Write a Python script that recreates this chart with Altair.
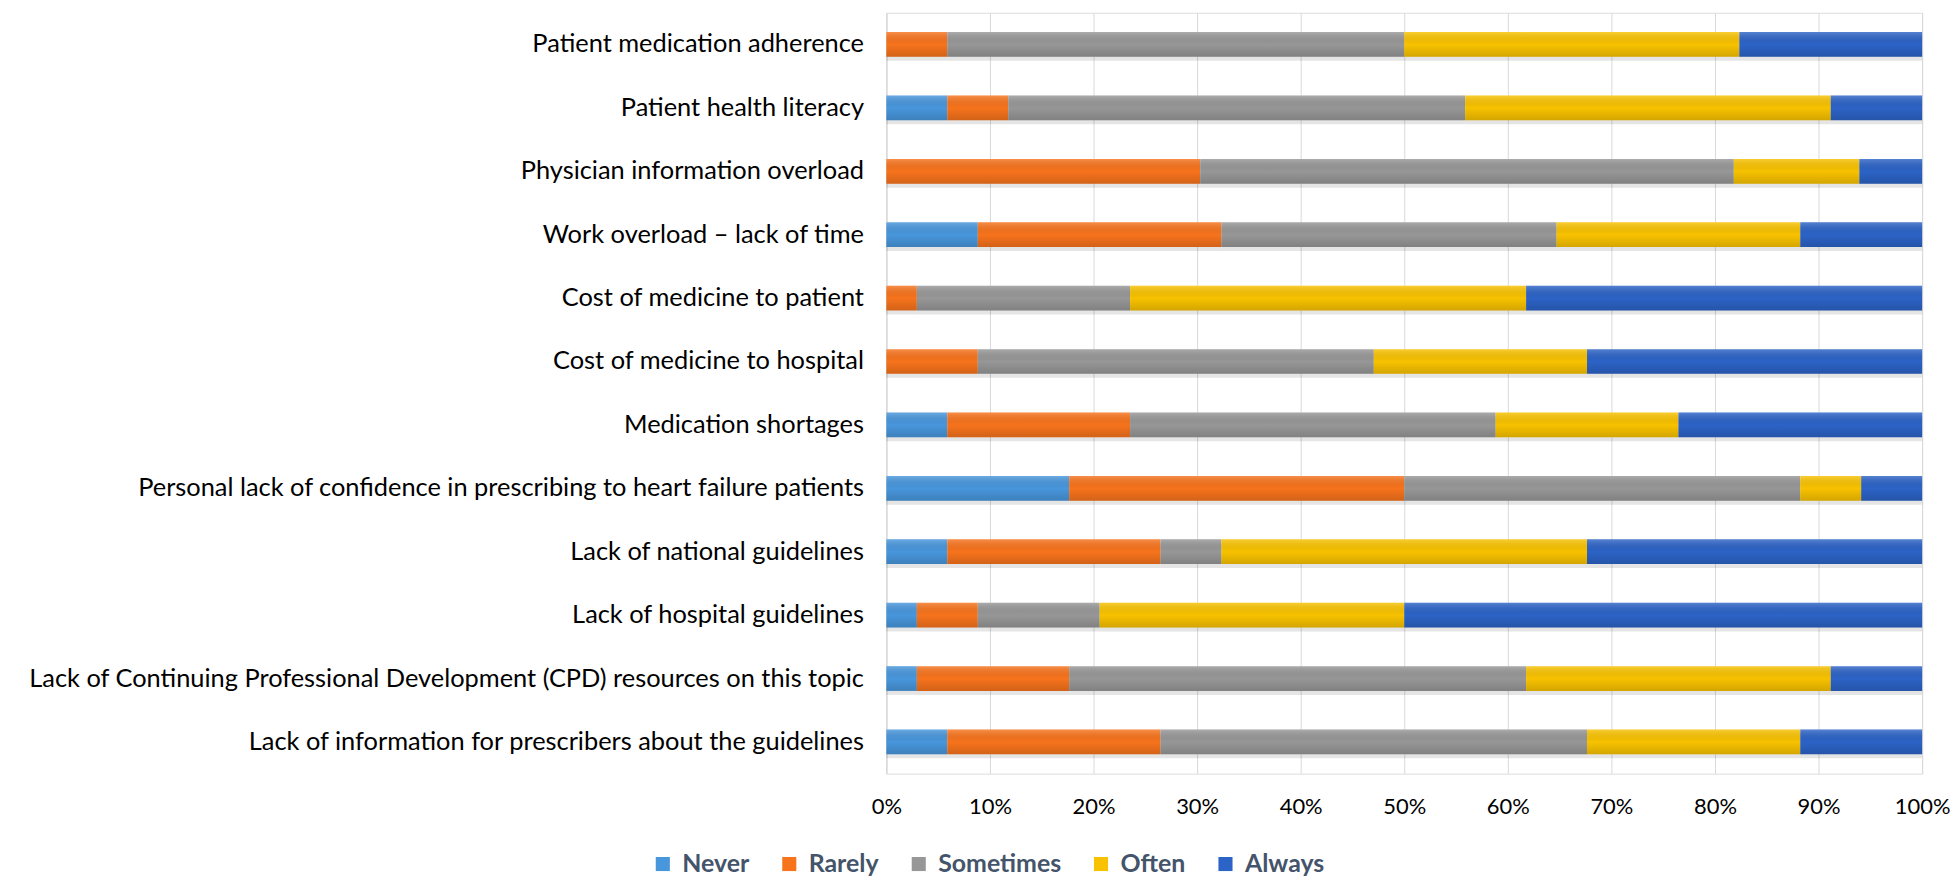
import altair as alt
import pandas as pd

categories = [
    "Patient medication adherence",
    "Patient health literacy",
    "Physician information overload",
    "Work overload \u2013 lack of time",
    "Cost of medicine to patient",
    "Cost of medicine to hospital",
    "Medication shortages",
    "Personal lack of confidence in prescribing to heart failure patients",
    "Lack of national guidelines",
    "Lack of hospital guidelines",
    "Lack of Continuing Professional Development (CPD) resources on this topic",
    "Lack of information for prescribers about the guidelines",
]
responses = ["Never", "Rarely", "Sometimes", "Often", "Always"]
never = [0, 2, 0, 3, 0, 0, 2, 6, 2, 1, 1, 2]
rarely = [2, 2, 10, 8, 1, 3, 6, 11, 7, 2, 5, 7]
sometimes = [15, 15, 17, 11, 7, 13, 12, 13, 2, 4, 15, 14]
often = [11, 12, 4, 8, 13, 7, 6, 2, 12, 10, 10, 7]
always = [6, 3, 2, 4, 13, 11, 8, 2, 11, 17, 3, 4]
colors = ["#4896DC", "#F7731C", "#979797", "#F8C200", "#2C63C6"]

series = [never, rarely, sometimes, often, always]
rows = []
for ri, (resp, vals) in enumerate(zip(responses, series)):
    for cat, v in zip(categories, vals):
        rows.append({"category": cat, "response": resp, "order": ri, "count": v})
df = pd.DataFrame(rows)

FONT = "Lato, Open Sans, sans-serif"

y_enc = alt.Y(
    "category:N",
    sort=categories,
    title=None,
    scale=alt.Scale(paddingInner=0.61, paddingOuter=0.305),
    axis=alt.Axis(
        labelFont=FONT,
        labelFontSize=25.5,
        labelColor="#000000",
        labelPadding=23,
        labelLimit=2000,
        ticks=False,
        domain=True,
        domainColor="#D9D9D9",
        grid=False,
    ),
)
x_enc = alt.X(
    "sum(count):Q",
    stack="normalize",
    title=None,
    scale=alt.Scale(domain=[0, 1], nice=False),
    axis=alt.Axis(
        format="%",
        values=[0, 0.1, 0.2, 0.3, 0.4, 0.5, 0.6, 0.7, 0.8, 0.9, 1.0],
        labelFont=FONT,
        labelFontSize=22,
        labelColor="#000000",
        labelPadding=23,
        labelFlush=False,
        ticks=False,
        domain=False,
        grid=True,
        gridColor="#D9D9D9",
        gridWidth=1,
    ),
)
order_enc = alt.Order("order:Q", sort="ascending")

base = alt.Chart(df)

shadow = base.mark_bar(color="#000000", opacity=0.10, yOffset=4).encode(
    y=y_enc, x=x_enc, detail="response:N", order=order_enc
)

bars = base.mark_bar().encode(
    y=y_enc,
    x=x_enc,
    color=alt.Color(
        "response:N",
        sort=responses,
        scale=alt.Scale(domain=responses, range=colors),
        legend=alt.Legend(
            title=None,
            orient="none",
            direction="horizontal",
            columns=5,
            legendX=-237,
            legendY=842,
            padding=0,
            symbolType="square",
            symbolSize=200,
            symbolStrokeWidth=0,
            labelFont=FONT,
            labelFontSize=25,
            labelFontWeight="bold",
            labelColor="#44546A",
            labelOffset=7,
            columnPadding=27,
        ),
    ),
    order=order_enc,
)

gradient = alt.LinearGradient(
    gradient="linear",
    stops=[
        alt.GradientStop(color="rgba(255,255,255,0.20)", offset=0),
        alt.GradientStop(color="rgba(0,0,0,0.0)", offset=0.5),
        alt.GradientStop(color="rgba(0,0,0,0.15)", offset=1),
    ],
    x1=0, x2=0, y1=0, y2=1,
)
overlay = base.mark_bar(color=gradient).encode(
    y=y_enc, x=x_enc, detail="response:N", order=order_enc
)

chart = (
    alt.layer(shadow, bars, overlay)
    .properties(
        width=1040,
        height=764,
        autosize=alt.AutoSizeParams(type="none"),
        padding={"left": 882, "top": 3, "right": 28, "bottom": 106},
    )
    .configure_view(stroke=None)
    .configure(background="#FFFFFF")
)

chart.save("out.html", embed_options={"renderer": "svg", "actions": False})
